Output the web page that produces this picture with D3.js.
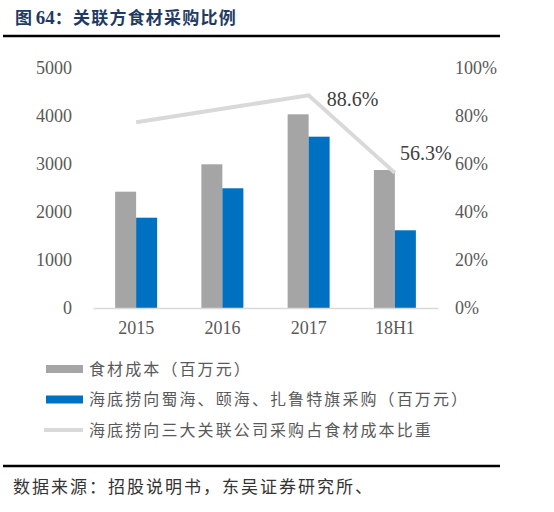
<html>
<head>
<meta charset="utf-8">
<title>关联方食材采购比例</title>
<style>
body {
	margin: 0;
	background: #fff;
}
</style>
<script type="text/javascript" src="https://cdnjs.cloudflare.com/ajax/libs/d3/7.8.5/d3.min.js"></script>
</head>
<body>
<div id="chart"></div>
<script type="text/javascript">

	var categories = ["2015", "2016", "2017", "18H1"];
	var foodCost = [2423, 2994, 4035, 2875];
	var relatedPurchase = [1881, 2494, 3569, 1619];
	var ratio = [0.774, 0.83, 0.886, 0.563];
	var ratioLabels = {"2017": "88.6%", "18H1": "56.3%"};
	var leftTicks = [0, 1000, 2000, 3000, 4000, 5000];
	var rightTicks = [0, 0.2, 0.4, 0.6, 0.8, 1.0];
	var seriesNames = ["食材成本（百万元）", "海底捞向蜀海、颐海、扎鲁特旗采购（百万元）", "海底捞向三大关联公司采购占食材成本比重"];

	var colors = {"cost": "#a5a5a5", "purchase": "#0070c0", "ratio": "#d9d9d9"};
	var serif = "'Liberation Serif', 'Times New Roman', serif";
	var cjk = "'Noto Sans CJK SC', sans-serif";

	var width = 554, height = 512;
	var svg = d3.select("#chart").append("svg")
		.attr("width", width)
		.attr("height", height);

	// title
	var title = svg.append("text")
		.attr("x", 15)
		.attr("y", 24)
		.attr("fill", "#1f3a63")
		.attr("font-weight", "bold");
	title.append("tspan").style("font-family", cjk).attr("font-size", 17).text("图 ");
	title.append("tspan").style("font-family", serif).attr("font-size", 19).text("64");
	title.append("tspan").style("font-family", cjk).attr("font-size", 17).attr("letter-spacing", 1.2).text("：关联方食材采购比例");

	svg.append("line").attr("x1", 3).attr("x2", 500).attr("y1", 36).attr("y2", 36)
		.attr("stroke", "#000").attr("stroke-width", 2.5);

	// scales
	var x = d3.scaleBand().domain(categories).range([93, 438]);
	var yLeft = d3.scaleLinear().domain([0, 5000]).range([308, 68]);
	var yRight = d3.scaleLinear().domain([0, 1]).range([308, 68]);
	var barW = 21;

	// left axis
	var leftAxis = svg.append("g")
		.attr("transform", "translate(72,0)")
		.call(d3.axisLeft(yLeft).tickValues(leftTicks).tickSize(0).tickPadding(0).tickFormat(d3.format("d")));
	leftAxis.select(".domain").remove();
	leftAxis.selectAll("text").attr("font-size", 18).attr("fill", "#595959")
		.style("font-family", serif);

	// right axis
	var rightAxis = svg.append("g")
		.attr("transform", "translate(455,0)")
		.call(d3.axisRight(yRight).tickValues(rightTicks).tickSize(0).tickPadding(0).tickFormat(d3.format(".0%")));
	rightAxis.select(".domain").remove();
	rightAxis.selectAll("text").attr("font-size", 18).attr("fill", "#595959")
		.style("font-family", serif);

	// bars
	svg.selectAll("rect.cost")
		.data(categories)
		.enter().append("rect")
			.attr("class", "cost")
			.attr("x", function (d) { return x(d) + x.bandwidth() / 2 - barW; })
			.attr("y", function (d, i) { return yLeft(foodCost[i]); })
			.attr("width", barW)
			.attr("height", function (d, i) { return yLeft(0) - yLeft(foodCost[i]); })
			.attr("fill", colors.cost);

	svg.selectAll("rect.purchase")
		.data(categories)
		.enter().append("rect")
			.attr("class", "purchase")
			.attr("x", function (d) { return x(d) + x.bandwidth() / 2; })
			.attr("y", function (d, i) { return yLeft(relatedPurchase[i]); })
			.attr("width", barW)
			.attr("height", function (d, i) { return yLeft(0) - yLeft(relatedPurchase[i]); })
			.attr("fill", colors.purchase);

	// x axis line + labels
	var bottomAxis = svg.append("g")
		.attr("transform", "translate(0,308)")
		.call(d3.axisBottom(x).tickSize(0).tickPadding(13));
	bottomAxis.select(".domain").attr("stroke", "#d9d9d9").attr("stroke-width", 1.5);
	bottomAxis.selectAll("text").attr("font-size", 18).attr("fill", "#595959")
		.style("font-family", serif);

	// ratio line
	var line = d3.line()
		.x(function (d, i) { return x(categories[i]) + x.bandwidth() / 2; })
		.y(function (d) { return yRight(d); });
	svg.append("path")
		.datum(ratio)
		.attr("d", line)
		.attr("fill", "none")
		.attr("stroke", colors.ratio)
		.attr("stroke-width", 4);

	svg.selectAll("text.ratio")
		.data(categories.filter(function (c) { return ratioLabels[c]; }))
		.enter().append("text")
			.attr("class", "ratio")
			.attr("x", function (d) { return x(d) + x.bandwidth() / 2 + (d == "18H1" ? 5 : 18); })
			.attr("y", function (d) { return yRight(ratio[categories.indexOf(d)]) + (d == "18H1" ? -13 : 11); })
			.attr("font-size", 20)
			.attr("fill", "#404040")
			.style("font-family", serif)
			.text(function (d) { return ratioLabels[d]; });

	// legend
	var legend = svg.selectAll("g.legend")
		.data(seriesNames)
		.enter().append("g")
			.attr("class", "legend")
			.attr("transform", function (d, i) { return "translate(0," + (369 + i * 30.5) + ")"; });
	legend.each(function (d, i) {
		var g = d3.select(this);
		if (i < 2)
			g.append("rect").attr("x", 46).attr("y", -4).attr("width", 37).attr("height", 8)
				.attr("fill", i == 0 ? colors.cost : colors.purchase);
		else
			g.append("line").attr("x1", 44).attr("x2", 83).attr("y1", 0).attr("y2", 0)
				.attr("stroke", colors.ratio).attr("stroke-width", 4);
	});
	legend.append("text")
		.attr("x", 89)
		.attr("y", 0)
		.attr("dy", "0.35em")
		.attr("font-size", 16)
		.attr("letter-spacing", 2.1)
		.attr("fill", "#595959")
		.style("font-family", cjk)
		.text(function (d) { return d; });

	// source
	svg.append("line").attr("x1", 3).attr("x2", 500).attr("y1", 466).attr("y2", 466)
		.attr("stroke", "#000").attr("stroke-width", 2.5);
	svg.append("text")
		.attr("x", 13)
		.attr("y", 487)
		.attr("dy", "0.35em")
		.attr("font-size", 17)
		.attr("letter-spacing", 2.0)
		.attr("fill", "#333")
		.style("font-family", cjk)
		.text("数据来源：招股说明书，东吴证券研究所、");

</script>
</body>
</html>
